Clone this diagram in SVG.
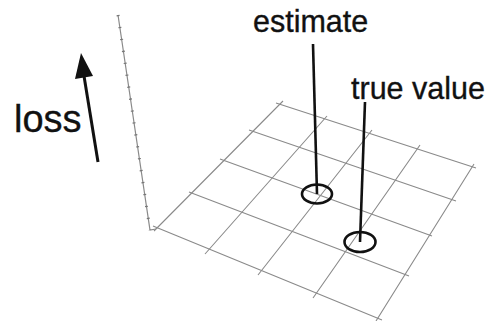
<svg xmlns="http://www.w3.org/2000/svg" width="495" height="321" viewBox="0 0 495 321">
<style>
.grid{stroke:#8a8a8a;stroke-width:1.1;fill:none}
.axis{stroke:#8a8a8a;stroke-width:1.2;fill:none}
.ticks{stroke:#777;stroke-width:3;fill:none;stroke-dasharray:1.2 10.86}
.pole{stroke:#111;stroke-width:2.6;fill:none}
.ring{stroke:#111;stroke-width:2.6;fill:none}
.lbl{font-family:"Liberation Sans",Arial,sans-serif;fill:#111;stroke:#111;stroke-width:0.35}
</style>
<rect width="495" height="321" fill="#fff"/>
<g id="grid">
<path class="grid" d="M276,103L476,168M249,130L456,201M220,159L432,236M189,192L409,276M153,226L382,320"/>
<path class="grid" d="M283,101L154,231M327,116L205,254M372,130L258,275M420,145L313,298M474,164L376,321"/>
</g>
<g id="axis">
<path class="axis" d="M118,15L150,230L156,229"/>
<path class="ticks" d="M118,15L150,230"/>
</g>
<g id="loss">
<line x1="98" y1="162" x2="84" y2="76" stroke="#111" stroke-width="3"/>
<polygon points="81,53 75,79 93,76" fill="#111"/>
<text class="lbl" x="14" y="132" font-size="38">loss</text>
</g>
<g id="connectors">
<line class="pole" x1="313" y1="44" x2="317" y2="194"/>
<line class="pole" x1="365" y1="102" x2="360" y2="242"/>
</g>
<g id="estimate">
<ellipse class="ring" cx="317" cy="194" rx="15" ry="9.5"/>
<text class="lbl" x="253" y="32" font-size="30.5">estimate</text>
</g>
<g id="true-value">
<ellipse class="ring" cx="360" cy="242" rx="15.5" ry="10"/>
<text class="lbl" x="351" y="99" font-size="30.5">true value</text>
</g>
</svg>
